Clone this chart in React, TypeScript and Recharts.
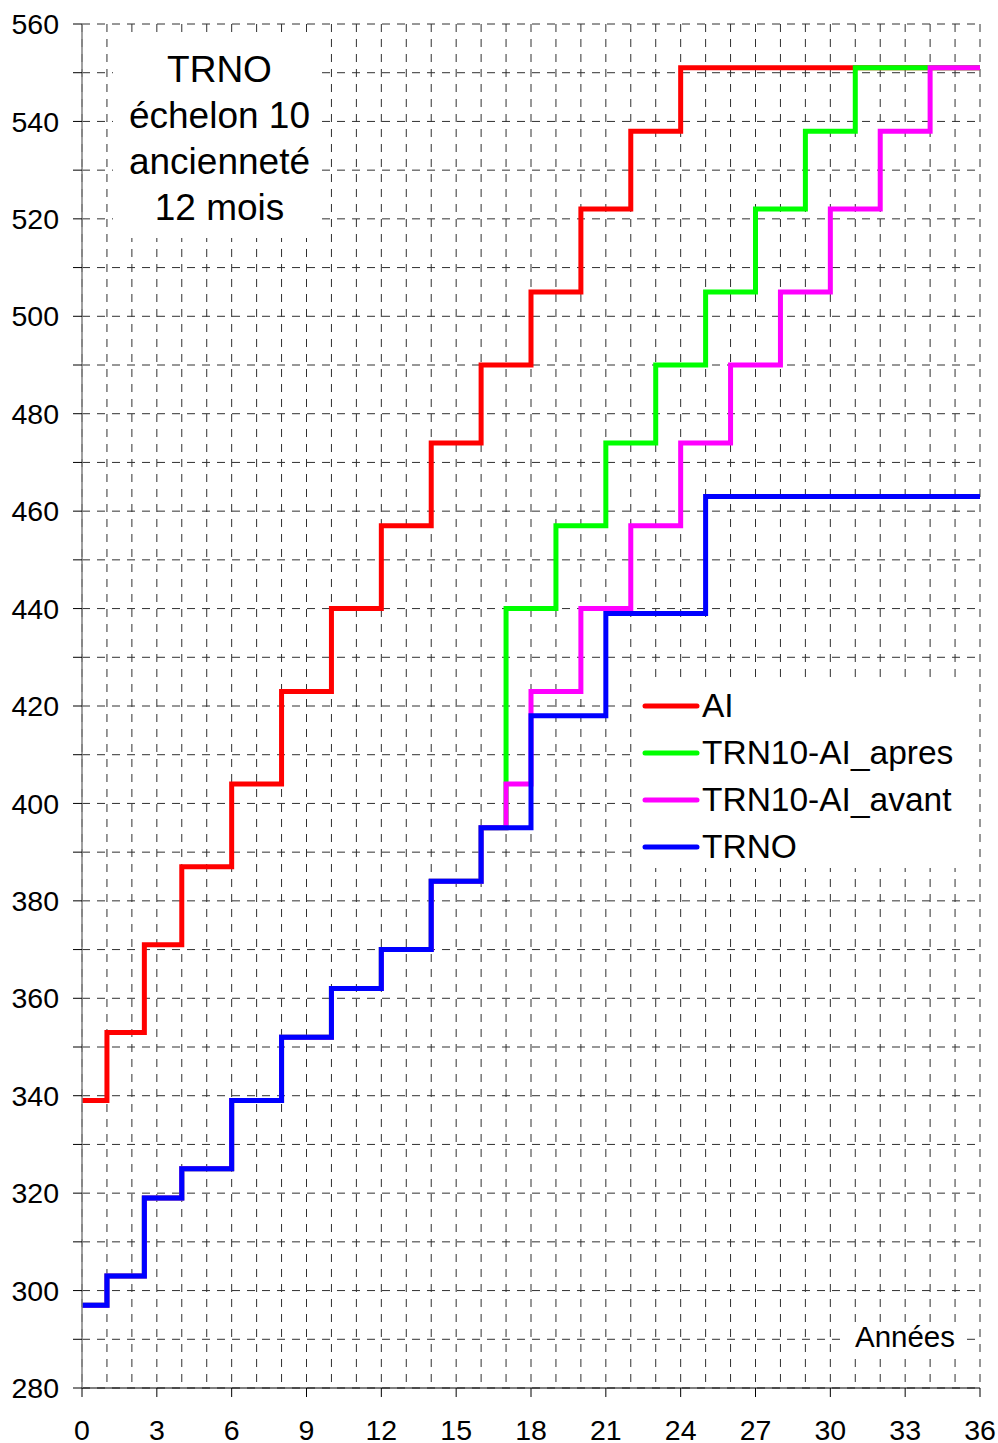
import React from 'react';
import { LineChart, Line, XAxis, YAxis, CartesianGrid } from 'recharts';

const AI_X = [0, 1, 2.5, 4, 6, 8, 10, 12, 14, 16, 18, 20, 22, 24, 36];
const AI_Y = [339, 353, 371, 387, 404, 423, 440, 457, 474, 490, 505, 522, 538, 551, 551];

const APRES_X = [0, 1, 2.5, 4, 6, 8, 10, 12, 14, 16, 17, 19, 21, 23, 25, 27, 29, 31, 36];
const APRES_Y = [297, 303, 319, 325, 339, 352, 362, 370, 384, 395, 440, 457, 474, 490, 505, 522, 538, 551, 551];

const AVANT_X = [0, 1, 2.5, 4, 6, 8, 10, 12, 14, 16, 17, 18, 20, 22, 24, 26, 28, 30, 32, 34, 36];
const AVANT_Y = [297, 303, 319, 325, 339, 352, 362, 370, 384, 395, 404, 423, 440, 457, 474, 490, 505, 522, 538, 551, 551];

const TRNO_X = [0, 1, 2.5, 4, 6, 8, 10, 12, 14, 16, 18, 21, 25, 36];
const TRNO_Y = [297, 303, 319, 325, 339, 352, 362, 370, 384, 395, 418, 439, 463, 463];

const X_TICKS = [0, 1, 2, 3, 4, 5, 6, 7, 8, 9, 10, 11, 12, 13, 14, 15, 16, 17, 18, 19, 20, 21, 22, 23, 24, 25, 26, 27, 28, 29, 30, 31, 32, 33, 34, 35, 36];
const Y_TICKS = [280, 290, 300, 310, 320, 330, 340, 350, 360, 370, 380, 390, 400, 410, 420, 430, 440, 450, 460, 470, 480, 490, 500, 510, 520, 530, 540, 550, 560];

const TITLE_LINES = ['TRNO', 'échelon 10', 'ancienneté', '12 mois'];
const X_TITLE = 'Années';

const SERIES = [
  { name: 'AI', xs: AI_X, ys: AI_Y, color: '#FF0000' },
  { name: 'TRN10-AI_apres', xs: APRES_X, ys: APRES_Y, color: '#00FF00' },
  { name: 'TRN10-AI_avant', xs: AVANT_X, ys: AVANT_Y, color: '#FF00FF' },
  { name: 'TRNO', xs: TRNO_X, ys: TRNO_Y, color: '#0000FF' },
];

const FONT = '"Liberation Sans", Arial, sans-serif';
const X_TICK_SIZE = 9;
const X_TICK_MARGIN = 23;

const XTick = (props: any) => {
  const { x, y, payload } = props;
  const v = payload.value;
  if (v % 3 !== 0) return <g />;
  const axisY = y - X_TICK_SIZE - X_TICK_MARGIN;
  return (
    <g>
      <line x1={x} x2={x} y1={axisY} y2={axisY + X_TICK_SIZE} stroke="#000" strokeWidth={1} />
      <text x={x} y={y} dy="0.71em" textAnchor="middle" fontSize={28.5} fill="#000" fontFamily={FONT}>
        {v}
      </text>
    </g>
  );
};

const LegendBox = () => (
  <div
    style={{
      position: 'absolute',
      left: 634,
      top: 678,
      width: 343,
      height: 190,
      background: '#fff',
      boxSizing: 'border-box',
      paddingTop: 4,
      paddingLeft: 6,
      fontFamily: FONT,
    }}
  >
    {SERIES.map((s) => (
      <div key={s.name} style={{ display: 'flex', alignItems: 'center', height: 47 }}>
        <svg width={62} height={10} style={{ display: 'block' }}>
          <line x1={5} x2={57} y1={5} y2={5} stroke={s.color} strokeWidth={5} strokeLinecap="round" />
        </svg>
        <span style={{ fontSize: 33.5, color: '#000', lineHeight: '47px' }}>{s.name}</span>
      </div>
    ))}
  </div>
);

export default function App() {
  return (
    <div style={{ position: 'absolute', left: 0, top: 0, width: 998, height: 1443, background: '#fff', overflow: 'hidden' }}>
      <LineChart width={998} height={1443} margin={{ top: 24, right: 18, bottom: 0, left: 0 }}>
        <CartesianGrid stroke="#303030" strokeDasharray="8 7" />
        <XAxis
          dataKey="x"
          type="number"
          domain={[0, 36]}
          ticks={X_TICKS}
          interval={0}
          allowDuplicatedCategory={false}
          height={55}
          tickLine={false}
          tickSize={X_TICK_SIZE}
          tickMargin={X_TICK_MARGIN}
          axisLine={{ stroke: '#000', strokeWidth: 1 }}
          tick={<XTick />}
        />
        <YAxis
          type="number"
          domain={[280, 560]}
          ticks={Y_TICKS}
          interval={0}
          width={82}
          tickSize={9}
          tickMargin={14}
          axisLine={{ stroke: '#808080', strokeWidth: 1.5 }}
          tickLine={{ stroke: '#000' }}
          tick={{ fontSize: 28.5, fill: '#000', fontFamily: FONT }}
          tickFormatter={(v: number) => (v % 20 === 0 ? String(v) : '')}
        />
        {SERIES.map((s) => (
          <Line
            key={s.name}
            name={s.name}
            data={s.xs.map((x, i) => ({ x, y: s.ys[i] }))}
            dataKey="y"
            type="stepAfter"
            stroke={s.color}
            strokeWidth={5}
            dot={false}
            activeDot={false}
            isAnimationActive={false}
          />
        ))}
      </LineChart>
      <LegendBox />
      <div
        style={{
          position: 'absolute',
          left: 113,
          top: 32,
          width: 205,
          height: 206,
          background: '#fff',
          textAlign: 'center',
          fontFamily: FONT,
          fontSize: 37,
          lineHeight: '46px',
          paddingTop: 15,
          paddingLeft: 8,
          boxSizing: 'border-box',
          color: '#000',
        }}
      >
        {TITLE_LINES.map((t) => (
          <div key={t}>{t}</div>
        ))}
      </div>
      <div
        style={{
          position: 'absolute',
          left: 846,
          top: 1322,
          width: 118,
          height: 30,
          background: '#fff',
          textAlign: 'center',
          fontFamily: FONT,
          fontSize: 29.5,
          lineHeight: '30px',
          color: '#000',
        }}
      >
        {X_TITLE}
      </div>
    </div>
  );
}
